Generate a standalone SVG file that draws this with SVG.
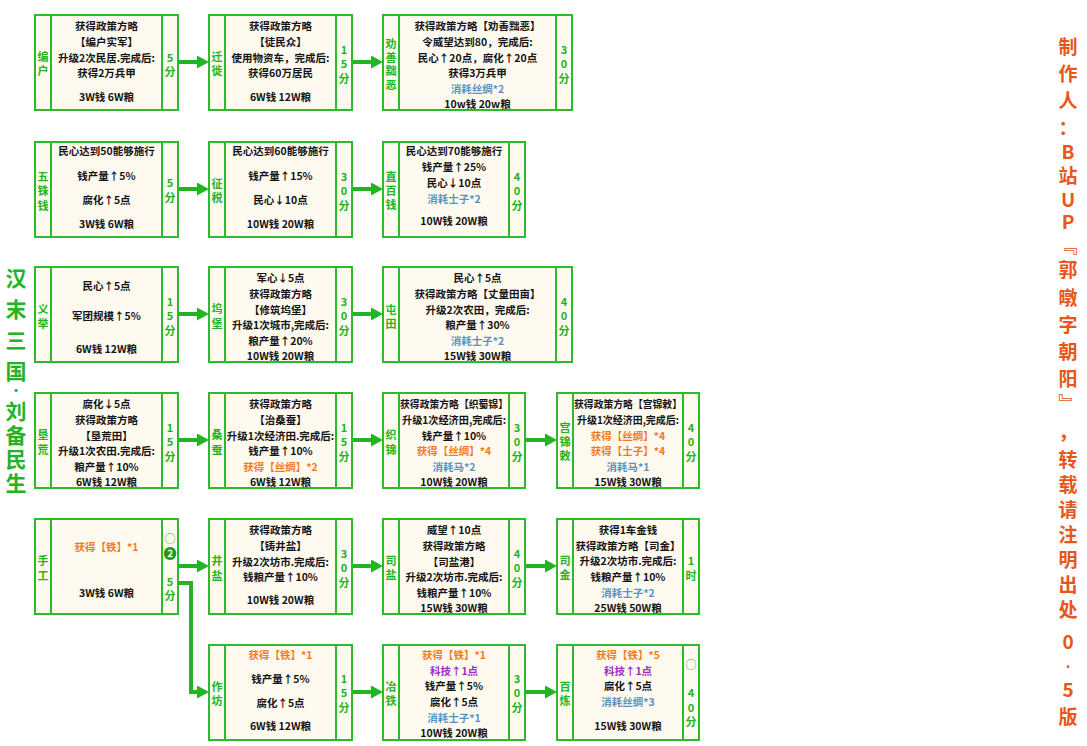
<svg xmlns="http://www.w3.org/2000/svg" width="1087" height="746" viewBox="0 0 1087 746">
<defs>
<style>
.box{fill:#fffaf0;stroke:#2bbb2b;stroke-width:2}
.dv{stroke:#2bbb2b;stroke-width:2}
text{font-family:"Noto Sans CJK SC","Liberation Sans",sans-serif;font-weight:bold;dominant-baseline:central;text-anchor:middle}
.t{font-size:10.5px;fill:#141414}
.o{fill:#f47a20}
.b{fill:#5a93c0}
.p{fill:#9a30c8}
.g{font-size:11px;fill:#22b422}
.tl{font-size:21px;fill:#22b422}
.tr{font-size:19px;fill:#e8561c}
.cn{stroke:#22b422;stroke-width:4;fill:none}
</style>
<marker id="ah" markerUnits="userSpaceOnUse" markerWidth="13" markerHeight="14" refX="4" refY="6.5" orient="auto"><path d="M0,0 L12,6.5 L0,13 z" fill="#22b422"/></marker>
</defs>
<rect width="1087" height="746" fill="#ffffff"/>

<g id="connectors">
<line class="cn" x1="178" y1="62" x2="201" y2="62" marker-end="url(#ah)"/>
<line class="cn" x1="352" y1="62" x2="375" y2="62" marker-end="url(#ah)"/>
<line class="cn" x1="178" y1="189" x2="201" y2="189" marker-end="url(#ah)"/>
<line class="cn" x1="352" y1="189" x2="375" y2="189" marker-end="url(#ah)"/>
<line class="cn" x1="178" y1="314" x2="201" y2="314" marker-end="url(#ah)"/>
<line class="cn" x1="352" y1="314" x2="375" y2="314" marker-end="url(#ah)"/>
<line class="cn" x1="178" y1="440" x2="201" y2="440" marker-end="url(#ah)"/>
<line class="cn" x1="352" y1="440" x2="375" y2="440" marker-end="url(#ah)"/>
<line class="cn" x1="525" y1="440" x2="549" y2="440" marker-end="url(#ah)"/>
<line class="cn" x1="178" y1="566" x2="201" y2="566" marker-end="url(#ah)"/>
<line class="cn" x1="352" y1="566" x2="375" y2="566" marker-end="url(#ah)"/>
<line class="cn" x1="525" y1="566" x2="549" y2="566" marker-end="url(#ah)"/>
<path class="cn" d="M178,583 H191 V692 H201" marker-end="url(#ah)"/>
<line class="cn" x1="352" y1="692" x2="375" y2="692" marker-end="url(#ah)"/>
<line class="cn" x1="525" y1="692" x2="549" y2="692" marker-end="url(#ah)"/>
</g>

<g id="title-left">
<text class="tl" x="16" y="277">汉</text>
<text class="tl" x="16" y="308">末</text>
<text class="tl" x="16" y="339">三</text>
<text class="tl" x="16" y="370">国</text>
<text class="tl" x="16" y="390" style="font-size:12px">·</text>
<text class="tl" x="16" y="410">刘</text>
<text class="tl" x="16" y="434">备</text>
<text class="tl" x="16" y="458">民</text>
<text class="tl" x="16" y="482">生</text>
</g>

<g id="title-right">
<text class="tr" x="1068" y="45">制</text>
<text class="tr" x="1068" y="72">作</text>
<text class="tr" x="1068" y="99">人</text>
<text class="tr" x="1068" y="126">：</text>
<text class="tr" x="1068" y="150">B</text>
<text class="tr" x="1068" y="174">站</text>
<text class="tr" x="1068" y="198">U</text>
<text class="tr" x="1068" y="220">P</text>
<text class="tr" x="1068" y="244">﹃</text>
<text class="tr" x="1068" y="268">郭</text>
<text class="tr" x="1068" y="296">暾</text>
<text class="tr" x="1068" y="323">字</text>
<text class="tr" x="1068" y="350">朝</text>
<text class="tr" x="1068" y="377">阳</text>
<text class="tr" x="1068" y="402">﹄</text>
<text class="tr" x="1068" y="430">，</text>
<text class="tr" x="1068" y="458">转</text>
<text class="tr" x="1068" y="483">载</text>
<text class="tr" x="1068" y="508">请</text>
<text class="tr" x="1068" y="533">注</text>
<text class="tr" x="1068" y="558">明</text>
<text class="tr" x="1068" y="583">出</text>
<text class="tr" x="1068" y="608">处</text>
<text class="tr" x="1068" y="640">0</text>
<text class="tr" x="1068" y="662" style="font-size:14px">.</text>
<text class="tr" x="1068" y="688">5</text>
<text class="tr" x="1068" y="715">版</text>
</g>

<!-- Row 1 -->
<g id="n-bianhu">
<rect class="box" x="35" y="15" width="143" height="95"/>
<line class="dv" x1="51" y1="15" x2="51" y2="110"/><line class="dv" x1="162" y1="15" x2="162" y2="110"/>
<text class="g" x="43" y="56">编</text><text class="g" x="43" y="70">户</text>
<text class="g" x="170" y="57">5</text><text class="g" x="170" y="71">分</text>
<text class="t" x="106.5" y="25">获得政策方略</text>
<text class="t" x="106.5" y="41">【编户实军】</text>
<text class="t" x="106.5" y="57">升级2次民居.完成后:</text>
<text class="t" x="106.5" y="72">获得2万兵甲</text>
<text class="t" x="106.5" y="96">3W钱 6W粮</text>
</g>
<g id="n-qianxi">
<rect class="box" x="209" y="15" width="143" height="95"/>
<line class="dv" x1="225" y1="15" x2="225" y2="110"/><line class="dv" x1="336" y1="15" x2="336" y2="110"/>
<text class="g" x="217" y="56">迁</text><text class="g" x="217" y="70">徙</text>
<text class="g" x="344" y="49">1</text><text class="g" x="344" y="63">5</text><text class="g" x="344" y="78">分</text>
<text class="t" x="280.5" y="25">获得政策方略</text>
<text class="t" x="280.5" y="41">【徒民众】</text>
<text class="t" x="280.5" y="57">使用物资车，完成后:</text>
<text class="t" x="280.5" y="72">获得60万居民</text>
<text class="t" x="280.5" y="96">6W钱 12W粮</text>
</g>
<g id="n-quanshan">
<rect class="box" x="383" y="15" width="189" height="95"/>
<line class="dv" x1="399" y1="15" x2="399" y2="110"/><line class="dv" x1="556" y1="15" x2="556" y2="110"/>
<text class="g" x="391" y="43">劝</text><text class="g" x="391" y="57">善</text><text class="g" x="391" y="70">黜</text><text class="g" x="391" y="84">恶</text>
<text class="g" x="564" y="49">3</text><text class="g" x="564" y="63">0</text><text class="g" x="564" y="78">分</text>
<text class="t" x="477.5" y="25">获得政策方略【劝善黜恶】</text>
<text class="t" x="477.5" y="41">令威望达到80，完成后:</text>
<text class="t" x="477.5" y="57">民心↑20点，腐化↑20点</text>
<text class="t" x="477.5" y="72">获得3万兵甲</text>
<text class="t b" x="477.5" y="88">消耗丝绸*2</text>
<text class="t" x="477.5" y="103">10w钱 20w粮</text>
</g>

<!-- Row 2 -->
<g id="n-wuzhu">
<rect class="box" x="35" y="142" width="143" height="95"/>
<line class="dv" x1="51" y1="142" x2="51" y2="237"/><line class="dv" x1="162" y1="142" x2="162" y2="237"/>
<text class="g" x="43" y="176">五</text><text class="g" x="43" y="190">铢</text><text class="g" x="43" y="205">钱</text>
<text class="g" x="170" y="182">5</text><text class="g" x="170" y="197">分</text>
<text class="t" x="106.5" y="150">民心达到50能够施行</text>
<text class="t" x="106.5" y="175">钱产量↑5%</text>
<text class="t" x="106.5" y="199">腐化↑5点</text>
<text class="t" x="106.5" y="223">3W钱 6W粮</text>
</g>
<g id="n-zhengshui">
<rect class="box" x="209" y="142" width="143" height="95"/>
<line class="dv" x1="225" y1="142" x2="225" y2="237"/><line class="dv" x1="336" y1="142" x2="336" y2="237"/>
<text class="g" x="217" y="183">征</text><text class="g" x="217" y="197">税</text>
<text class="g" x="344" y="176">3</text><text class="g" x="344" y="190">0</text><text class="g" x="344" y="205">分</text>
<text class="t" x="280.5" y="150">民心达到60能够施行</text>
<text class="t" x="280.5" y="175">钱产量↑15%</text>
<text class="t" x="280.5" y="199">民心↓10点</text>
<text class="t" x="280.5" y="223">10W钱 20W粮</text>
</g>
<g id="n-zhibai">
<rect class="box" x="383" y="142" width="142" height="95"/>
<line class="dv" x1="399" y1="142" x2="399" y2="237"/><line class="dv" x1="509" y1="142" x2="509" y2="237"/>
<text class="g" x="391" y="176">直</text><text class="g" x="391" y="190">百</text><text class="g" x="391" y="204">钱</text>
<text class="g" x="517" y="176">4</text><text class="g" x="517" y="190">0</text><text class="g" x="517" y="205">分</text>
<text class="t" x="454" y="150">民心达到70能够施行</text>
<text class="t" x="454" y="166">钱产量↑25%</text>
<text class="t" x="454" y="182">民心↓10点</text>
<text class="t b" x="454" y="198">消耗士子*2</text>
<text class="t" x="454" y="220">10W钱 20W粮</text>
</g>

<!-- Row 3 -->
<g id="n-yiju">
<rect class="box" x="35" y="267" width="143" height="95"/>
<line class="dv" x1="51" y1="267" x2="51" y2="362"/><line class="dv" x1="162" y1="267" x2="162" y2="362"/>
<text class="g" x="43" y="308">义</text><text class="g" x="43" y="323">举</text>
<text class="g" x="170" y="301">1</text><text class="g" x="170" y="315">5</text><text class="g" x="170" y="330">分</text>
<text class="t" x="106.5" y="285">民心↑5点</text>
<text class="t" x="106.5" y="315">军团规模↑5%</text>
<text class="t" x="106.5" y="348">6W钱 12W粮</text>
</g>
<g id="n-wubao">
<rect class="box" x="209" y="267" width="143" height="95"/>
<line class="dv" x1="225" y1="267" x2="225" y2="362"/><line class="dv" x1="336" y1="267" x2="336" y2="362"/>
<text class="g" x="217" y="308">坞</text><text class="g" x="217" y="323">堡</text>
<text class="g" x="344" y="301">3</text><text class="g" x="344" y="315">0</text><text class="g" x="344" y="330">分</text>
<text class="t" x="280.5" y="277">军心↓5点</text>
<text class="t" x="280.5" y="293">获得政策方略</text>
<text class="t" x="280.5" y="309">【修筑坞堡】</text>
<text class="t" x="280.5" y="324">升级1次城市,完成后:</text>
<text class="t" x="280.5" y="340">粮产量↑20%</text>
<text class="t" x="280.5" y="355">10W钱 20W粮</text>
</g>
<g id="n-tuntian">
<rect class="box" x="383" y="267" width="189" height="95"/>
<line class="dv" x1="399" y1="267" x2="399" y2="362"/><line class="dv" x1="556" y1="267" x2="556" y2="362"/>
<text class="g" x="391" y="309">屯</text><text class="g" x="391" y="323">田</text>
<text class="g" x="564" y="301">4</text><text class="g" x="564" y="315">0</text><text class="g" x="564" y="330">分</text>
<text class="t" x="477.5" y="277">民心↑5点</text>
<text class="t" x="477.5" y="293">获得政策方略【丈量田亩】</text>
<text class="t" x="477.5" y="309">升级2次农田，完成后:</text>
<text class="t" x="477.5" y="324">粮产量↑30%</text>
<text class="t b" x="477.5" y="340">消耗士子*2</text>
<text class="t" x="477.5" y="355">15W钱 30W粮</text>
</g>

<!-- Row 4 -->
<g id="n-kenhuang">
<rect class="box" x="35" y="393" width="143" height="95"/>
<line class="dv" x1="51" y1="393" x2="51" y2="488"/><line class="dv" x1="162" y1="393" x2="162" y2="488"/>
<text class="g" x="43" y="434">垦</text><text class="g" x="43" y="449">荒</text>
<text class="g" x="170" y="427">1</text><text class="g" x="170" y="441">5</text><text class="g" x="170" y="456">分</text>
<text class="t" x="106.5" y="403">腐化↓5点</text>
<text class="t" x="106.5" y="419">获得政策方略</text>
<text class="t" x="106.5" y="435">【垦荒田】</text>
<text class="t" x="106.5" y="450">升级1次农田.完成后:</text>
<text class="t" x="106.5" y="466">粮产量↑10%</text>
<text class="t" x="106.5" y="481">6W钱 12W粮</text>
</g>
<g id="n-sangcan">
<rect class="box" x="209" y="393" width="143" height="95"/>
<line class="dv" x1="225" y1="393" x2="225" y2="488"/><line class="dv" x1="336" y1="393" x2="336" y2="488"/>
<text class="g" x="217" y="434">桑</text><text class="g" x="217" y="449">蚕</text>
<text class="g" x="344" y="427">1</text><text class="g" x="344" y="441">5</text><text class="g" x="344" y="456">分</text>
<text class="t" x="280.5" y="403">获得政策方略</text>
<text class="t" x="280.5" y="419">【治桑蚕】</text>
<text class="t" x="280.5" y="435">升级1次经济田.完成后:</text>
<text class="t" x="280.5" y="450">钱产量↑10%</text>
<text class="t o" x="280.5" y="466">获得【丝绸】*2</text>
<text class="t" x="280.5" y="481">6W钱 12W粮</text>
</g>
<g id="n-zhijin">
<rect class="box" x="383" y="393" width="142" height="95"/>
<line class="dv" x1="399" y1="393" x2="399" y2="488"/><line class="dv" x1="509" y1="393" x2="509" y2="488"/>
<text class="g" x="391" y="434">织</text><text class="g" x="391" y="449">锦</text>
<text class="g" x="517" y="427">3</text><text class="g" x="517" y="441">0</text><text class="g" x="517" y="456">分</text>
<text class="t" x="454" y="403" textLength="108" lengthAdjust="spacingAndGlyphs">获得政策方略【织蜀锦】</text>
<text class="t" x="454" y="419" textLength="104" lengthAdjust="spacingAndGlyphs">升级1次经济田,完成后:</text>
<text class="t" x="454" y="435">钱产量↑10%</text>
<text class="t o" x="454" y="450">获得【丝绸】*4</text>
<text class="t b" x="454" y="466">消耗马*2</text>
<text class="t" x="454" y="481">10W钱 20W粮</text>
</g>
<g id="n-gongjin">
<rect class="box" x="557" y="393" width="142" height="95"/>
<line class="dv" x1="573" y1="393" x2="573" y2="488"/><line class="dv" x1="683" y1="393" x2="683" y2="488"/>
<text class="g" x="565" y="427">宫</text><text class="g" x="565" y="441">锦</text><text class="g" x="565" y="455">敕</text>
<text class="g" x="691" y="427">4</text><text class="g" x="691" y="441">0</text><text class="g" x="691" y="456">分</text>
<text class="t" x="628" y="403" textLength="108" lengthAdjust="spacingAndGlyphs">获得政策方略【宫锦敕】</text>
<text class="t" x="628" y="419" textLength="102" lengthAdjust="spacingAndGlyphs">升级1次经济田,完成后:</text>
<text class="t o" x="628" y="435">获得【丝绸】*4</text>
<text class="t o" x="628" y="450">获得【士子】*4</text>
<text class="t b" x="628" y="466">消耗马*1</text>
<text class="t" x="628" y="481">15W钱 30W粮</text>
</g>

<!-- Row 5 -->
<g id="n-shougong">
<rect class="box" x="35" y="519" width="143" height="95"/>
<line class="dv" x1="51" y1="519" x2="51" y2="614"/><line class="dv" x1="162" y1="519" x2="162" y2="614"/>
<text class="g" x="43" y="560">手</text><text class="g" x="43" y="575">工</text>
<text class="g" x="170" y="538" style="font-weight:normal">○</text><text class="g" x="170" y="552" style="fill:#1a9a1a;font-size:13px">❷</text><text class="g" x="170" y="581">5</text><text class="g" x="170" y="595">分</text>
<text class="t o" x="106.5" y="546">获得【铁】*1</text>
<text class="t" x="106.5" y="592">3W钱 6W粮</text>
</g>
<g id="n-jingyan">
<rect class="box" x="209" y="519" width="143" height="95"/>
<line class="dv" x1="225" y1="519" x2="225" y2="614"/><line class="dv" x1="336" y1="519" x2="336" y2="614"/>
<text class="g" x="217" y="560">井</text><text class="g" x="217" y="575">盐</text>
<text class="g" x="344" y="553">3</text><text class="g" x="344" y="567">0</text><text class="g" x="344" y="582">分</text>
<text class="t" x="280.5" y="529">获得政策方略</text>
<text class="t" x="280.5" y="545">【铸井盐】</text>
<text class="t" x="280.5" y="561">升级2次坊市.完成后:</text>
<text class="t" x="280.5" y="576">钱粮产量↑10%</text>
<text class="t" x="280.5" y="599">10W钱 20W粮</text>
</g>
<g id="n-siyan">
<rect class="box" x="383" y="519" width="142" height="95"/>
<line class="dv" x1="399" y1="519" x2="399" y2="614"/><line class="dv" x1="509" y1="519" x2="509" y2="614"/>
<text class="g" x="391" y="560">司</text><text class="g" x="391" y="574">盐</text>
<text class="g" x="517" y="553">4</text><text class="g" x="517" y="567">0</text><text class="g" x="517" y="582">分</text>
<text class="t" x="454" y="529">威望↑10点</text>
<text class="t" x="454" y="545">获得政策方略</text>
<text class="t" x="454" y="561">【司盐港】</text>
<text class="t" x="454" y="576">升级2次坊市.完成后:</text>
<text class="t" x="454" y="592">钱粮产量↑10%</text>
<text class="t" x="454" y="607">15W钱 30W粮</text>
</g>
<g id="n-sijin">
<rect class="box" x="557" y="519" width="142" height="95"/>
<line class="dv" x1="573" y1="519" x2="573" y2="614"/><line class="dv" x1="683" y1="519" x2="683" y2="614"/>
<text class="g" x="565" y="560">司</text><text class="g" x="565" y="574">金</text>
<text class="g" x="691" y="560">1</text><text class="g" x="691" y="575">时</text>
<text class="t" x="628" y="529">获得1车金钱</text>
<text class="t" x="628" y="545">获得政策方略【司金】</text>
<text class="t" x="628" y="560">升级2次坊市.完成后:</text>
<text class="t" x="628" y="576">钱粮产量↑10%</text>
<text class="t b" x="628" y="592">消耗士子*2</text>
<text class="t" x="628" y="607">25W钱 50W粮</text>
</g>

<!-- Row 6 -->
<g id="n-zuofang">
<rect class="box" x="209" y="645" width="143" height="95"/>
<line class="dv" x1="225" y1="645" x2="225" y2="740"/><line class="dv" x1="336" y1="645" x2="336" y2="740"/>
<text class="g" x="217" y="686">作</text><text class="g" x="217" y="700">坊</text>
<text class="g" x="344" y="678">1</text><text class="g" x="344" y="692">5</text><text class="g" x="344" y="707">分</text>
<text class="t o" x="280.5" y="654">获得【铁】*1</text>
<text class="t" x="280.5" y="678">钱产量↑5%</text>
<text class="t" x="280.5" y="702">腐化↑5点</text>
<text class="t" x="280.5" y="725">6W钱 12W粮</text>
</g>
<g id="n-yetie">
<rect class="box" x="383" y="645" width="142" height="95"/>
<line class="dv" x1="399" y1="645" x2="399" y2="740"/><line class="dv" x1="509" y1="645" x2="509" y2="740"/>
<text class="g" x="391" y="686">冶</text><text class="g" x="391" y="700">铁</text>
<text class="g" x="517" y="678">3</text><text class="g" x="517" y="692">0</text><text class="g" x="517" y="707">分</text>
<text class="t o" x="454" y="654">获得【铁】*1</text>
<text class="t p" x="454" y="670">科技↑1点</text>
<text class="t" x="454" y="685">钱产量↑5%</text>
<text class="t" x="454" y="701">腐化↑5点</text>
<text class="t b" x="454" y="717">消耗士子*1</text>
<text class="t" x="454" y="732">10W钱 20W粮</text>
</g>
<g id="n-bailian">
<rect class="box" x="557" y="645" width="142" height="95"/>
<line class="dv" x1="573" y1="645" x2="573" y2="740"/><line class="dv" x1="683" y1="645" x2="683" y2="740"/>
<text class="g" x="565" y="686">百</text><text class="g" x="565" y="700">炼</text>
<text class="g" x="691" y="664" style="font-weight:normal">○</text><text class="g" x="691" y="692">4</text><text class="g" x="691" y="707">0</text><text class="g" x="691" y="721">分</text>
<text class="t o" x="628" y="654">获得【铁】*5</text>
<text class="t p" x="628" y="670">科技↑1点</text>
<text class="t" x="628" y="685">腐化↑5点</text>
<text class="t b" x="628" y="701">消耗丝绸*3</text>
<text class="t" x="628" y="725">15W钱 30W粮</text>
</g>
</svg>
